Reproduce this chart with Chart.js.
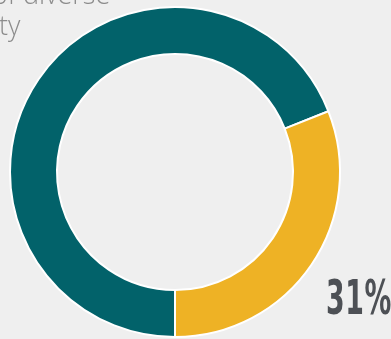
<!DOCTYPE html>
<html>
<head>
<meta charset="utf-8">
<script src="https://cdn.jsdelivr.net/npm/chart.js@4/dist/chart.umd.min.js"></script>
<style>
  html, body { margin: 0; padding: 0; background: #efefef; overflow: hidden; }
  #wrap { position: relative; width: 391px; height: 339px; }
  #ring { position: absolute; left: 0; top: 0; }
  .caption {
    position: absolute; left: -8px; top: -22px;
    font-family: "Open Sans", sans-serif; font-weight: 300;
    font-size: 27px; line-height: 31px; color: #8c8c8c; white-space: nowrap;
  }
  .big {
    position: absolute; left: 326px; top: 267px;
    font-family: "DejaVu Sans Condensed", "DejaVu Sans", sans-serif; font-weight: bold;
    font-size: 48px; line-height: 60px; color: #4d5055; letter-spacing: 1px;
    transform: scaleX(0.62); transform-origin: left top; white-space: nowrap;
  }
</style>
</head>
<body>
<div id="wrap">
  <canvas id="ring" width="391" height="339"></canvas>
  <div class="caption">of diverse<br>&nbsp;ty</div>
  <div class="big" id="pct"></div>
</div>
<script>
const segments = ['Other', 'Diverse'];
const shares = [69, 31];
const colors = ['#02626a', '#eeb225'];

document.getElementById('pct').textContent = shares[1] + '%';

// pin the ring's centre and radii inside the canvas
function pinRing(chart) {
  chart.getDatasetMeta(0).data.forEach(arc => {
    arc.x = 175;
    arc.y = 172;
    arc.outerRadius = 165;
    arc.innerRadius = 118;
  });
}

new Chart(document.getElementById('ring'), {
  type: 'doughnut',
  data: {
    labels: segments,
    datasets: [{
      data: shares,
      backgroundColor: colors,
      borderColor: '#ffffff',
      borderWidth: 2
    }]
  },
  options: {
    responsive: false,
    animation: false,
    rotation: 180,
    cutout: '71.5%',
    plugins: { legend: { display: false }, tooltip: { enabled: false } }
  },
  plugins: [{ id: 'pinRing', afterLayout: pinRing, beforeDatasetsDraw: pinRing }]
});
</script>
</body>
</html>
